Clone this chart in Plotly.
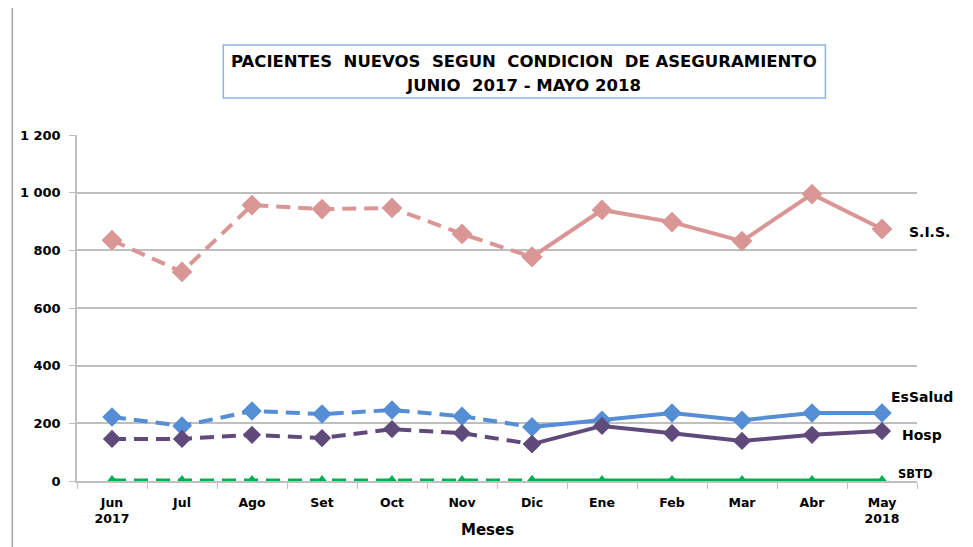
import plotly.graph_objects as go

meses = ["Jun<br>2017", "Jul", "Ago", "Set", "Oct", "Nov", "Dic",
         "Ene", "Feb", "Mar", "Abr", "May<br>2018"]
sis = [835, 725, 957, 943, 947, 857, 777, 940, 898, 832, 995, 874]
essalud = [222, 191, 243, 232, 246, 225, 187, 211, 236, 211, 236, 236]
hosp = [146, 146, 160, 149, 180, 166, 128, 191, 166, 139, 160, 173]
sbtd = [2, 2, 2, 2, 2, 2, 2, 2, 2, 2, 2, 2]
y_ticks = [0, 200, 400, 600, 800, 1000, 1200]
y_ticktext = ["0", "200", "400", "600", "800", "1 000", "1 200"]

series = [
    ("S.I.S.", sis, "#D99694", "diamond", 16),
    ("EsSalud", essalud, "#558ED5", "diamond", 15),
    ("Hosp", hosp, "#604A7B", "diamond", 14),
    ("SBTD", sbtd, "#00B050", "triangle-up", 11),
]

fig = go.Figure()
split = 6
for name, vals, color, sym, ms in series:
    fig.add_trace(go.Scatter(
        x=meses[:split + 1], y=vals[:split + 1], mode="lines+markers",
        line=dict(color=color, width=4, dash="14px,8px"),
        marker=dict(symbol=sym, size=ms, color=color),
        showlegend=False, name=name))
    fig.add_trace(go.Scatter(
        x=meses[split:], y=vals[split:], mode="lines+markers",
        line=dict(color=color, width=4),
        marker=dict(symbol=sym, size=ms, color=color),
        showlegend=False, name=name))

# the page adds an 8px body margin, so margins are offset by 8px
off = 8
L, R, T, B = 73, 917, 135, 481
fig.update_layout(
    width=973, height=547,
    margin=dict(l=L - off, r=973 + off - R, t=T - off, b=547 + off - B),
    paper_bgcolor="white", plot_bgcolor="white",
    font=dict(family="DejaVu Sans", size=12, color="black"),
    xaxis=dict(type="category", categoryorder="array", categoryarray=meses,
               showgrid=False, showline=True, linecolor="#BFBFBF", linewidth=1.5,
               ticks="outside", tickson="boundaries", ticklen=6, tickcolor="#BFBFBF",
               ticklabelstandoff=9,
               tickfont=dict(family="DejaVu Sans", size=12.5, color="black"),
               range=[-0.5, 11.5]),
    yaxis=dict(range=[0, 1200], tickvals=y_ticks, ticktext=["<b>%s</b>" % t for t in y_ticktext],
               showgrid=True, gridcolor="#BFBFBF", gridwidth=1.5,
               showline=True, linecolor="#BFBFBF", linewidth=1.5,
               ticks="outside", ticklen=6, tickcolor="#BFBFBF", zeroline=False,
               ticklabelstandoff=6,
               tickfont=dict(family="DejaVu Sans", size=13, color="black")),
)
fig.update_xaxes(ticktext=["<b>%s</b>" % m for m in meses], tickvals=meses)

W, H = R - L, B - T
def px(x):
    return (x - L) / W
def py(y):
    return (B - y) / H

# title box
fig.add_shape(type="rect", xref="paper", yref="paper",
              x0=px(220), x1=px(825), y0=py(98), y1=py(45),
              line=dict(color="#8EB4E3", width=1.5), fillcolor="white")
for line_txt, ly in [("PACIENTES  NUEVOS  SEGUN  CONDICION  DE ASEGURAMIENTO", 62),
                     ("JUNIO  2017 - MAYO 2018", 85)]:
    fig.add_annotation(xref="paper", yref="paper", x=px(522), y=py(ly),
                       xanchor="center", yanchor="middle",
                       text="<b>%s</b>" % line_txt,
                       showarrow=False, font=dict(family="DejaVu Sans", size=16.5, color="black"))
# axis title
fig.add_annotation(xref="paper", yref="paper", x=px(485), y=py(530),
                   xanchor="center", yanchor="middle", text="<b>Meses</b>", showarrow=False,
                   font=dict(family="DejaVu Sans", size=15, color="black"))
# chart frame left line
fig.add_shape(type="line", xref="paper", yref="paper",
              x0=px(8), x1=px(8), y0=-1, y1=2,
              line=dict(color="#A6A6A6", width=1.5))

labels = [("S.I.S.", 907, 232, 14), ("EsSalud", 889, 397, 14), ("Hosp", 900, 435, 14), ("SBTD", 896, 474, 11.5)]
for txt, lx, ly, fs in labels:
    fig.add_annotation(xref="paper", yref="paper", x=px(lx), y=py(ly),
                       text="<b>%s</b>" % txt, showarrow=False, xanchor="left", yanchor="middle",
                       font=dict(family="DejaVu Sans", size=fs, color="black"))

fig.write_html("out.html")
